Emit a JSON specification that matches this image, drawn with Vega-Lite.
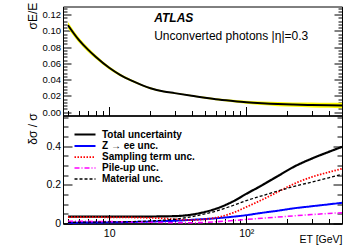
{
  "$schema": "https://vega.github.io/schema/vega-lite/v6.json",
  "padding": {"left": 25, "top": 1.5, "right": 20, "bottom": 2},
  "spacing": 0,
  "bounds": "flush",
  "background": "white",
  "config": {
    "view": {"stroke": "black", "strokeWidth": 1},
    "font": "Liberation Sans",
    "axis": {"domainColor": "black", "tickColor": "black", "labelColor": "black", "titleColor": "black", "grid": false, "labelFont": "Liberation Sans", "titleFont": "Liberation Sans", "domainWidth": 1, "tickWidth": 1, "labelFlush": false, "labelOverlap": false, "titleFontWeight": "normal"}
  },
  "datasets": {
    "sig": [
      {"E": 5, "s": 0.107, "lo": 0.1031, "hi": 0.1109},
      {"E": 6, "s": 0.089, "lo": 0.0858, "hi": 0.0922},
      {"E": 7, "s": 0.077, "lo": 0.0742, "hi": 0.0798},
      {"E": 8, "s": 0.068, "lo": 0.0655, "hi": 0.0705},
      {"E": 10, "s": 0.0547, "lo": 0.0527, "hi": 0.0567},
      {"E": 12, "s": 0.046, "lo": 0.0443, "hi": 0.0477},
      {"E": 15, "s": 0.038, "lo": 0.0366, "hi": 0.0394},
      {"E": 20, "s": 0.0295, "lo": 0.0284, "hi": 0.0306},
      {"E": 25, "s": 0.0255, "lo": 0.0246, "hi": 0.0264},
      {"E": 30, "s": 0.0235, "lo": 0.0226, "hi": 0.0244},
      {"E": 40, "s": 0.0203, "lo": 0.0194, "hi": 0.0212},
      {"E": 50, "s": 0.0178, "lo": 0.0167, "hi": 0.0189},
      {"E": 60, "s": 0.016, "lo": 0.0148, "hi": 0.0172},
      {"E": 80, "s": 0.0138, "lo": 0.0122, "hi": 0.0154},
      {"E": 100, "s": 0.0123, "lo": 0.0104, "hi": 0.0142},
      {"E": 130, "s": 0.011, "lo": 0.0088, "hi": 0.0132},
      {"E": 170, "s": 0.01, "lo": 0.0075, "hi": 0.0125},
      {"E": 220, "s": 0.0094, "lo": 0.0067, "hi": 0.0121},
      {"E": 300, "s": 0.0089, "lo": 0.0059, "hi": 0.0119},
      {"E": 400, "s": 0.0085, "lo": 0.0054, "hi": 0.0116},
      {"E": 500, "s": 0.0083, "lo": 0.005, "hi": 0.0116}
    ],
    "unc": [
      {"E": 5, "series": "Total uncertainty", "v": 0.036},
      {"E": 7, "series": "Total uncertainty", "v": 0.036},
      {"E": 10, "series": "Total uncertainty", "v": 0.036},
      {"E": 15, "series": "Total uncertainty", "v": 0.036},
      {"E": 20, "series": "Total uncertainty", "v": 0.036},
      {"E": 25, "series": "Total uncertainty", "v": 0.037},
      {"E": 30, "series": "Total uncertainty", "v": 0.038},
      {"E": 40, "series": "Total uncertainty", "v": 0.046},
      {"E": 50, "series": "Total uncertainty", "v": 0.06},
      {"E": 60, "series": "Total uncertainty", "v": 0.076},
      {"E": 80, "series": "Total uncertainty", "v": 0.114},
      {"E": 100, "series": "Total uncertainty", "v": 0.153},
      {"E": 130, "series": "Total uncertainty", "v": 0.197},
      {"E": 170, "series": "Total uncertainty", "v": 0.245},
      {"E": 220, "series": "Total uncertainty", "v": 0.291},
      {"E": 300, "series": "Total uncertainty", "v": 0.335},
      {"E": 400, "series": "Total uncertainty", "v": 0.37},
      {"E": 500, "series": "Total uncertainty", "v": 0.396},
      {"E": 5, "series": "Z  → ee unc.", "v": 0.004},
      {"E": 7, "series": "Z  → ee unc.", "v": 0.005},
      {"E": 10, "series": "Z  → ee unc.", "v": 0.006},
      {"E": 15, "series": "Z  → ee unc.", "v": 0.008},
      {"E": 20, "series": "Z  → ee unc.", "v": 0.01},
      {"E": 25, "series": "Z  → ee unc.", "v": 0.012},
      {"E": 30, "series": "Z  → ee unc.", "v": 0.014},
      {"E": 40, "series": "Z  → ee unc.", "v": 0.019},
      {"E": 50, "series": "Z  → ee unc.", "v": 0.023},
      {"E": 60, "series": "Z  → ee unc.", "v": 0.027},
      {"E": 80, "series": "Z  → ee unc.", "v": 0.035},
      {"E": 100, "series": "Z  → ee unc.", "v": 0.043},
      {"E": 130, "series": "Z  → ee unc.", "v": 0.055},
      {"E": 170, "series": "Z  → ee unc.", "v": 0.066},
      {"E": 220, "series": "Z  → ee unc.", "v": 0.078},
      {"E": 300, "series": "Z  → ee unc.", "v": 0.089},
      {"E": 400, "series": "Z  → ee unc.", "v": 0.099},
      {"E": 500, "series": "Z  → ee unc.", "v": 0.107},
      {"E": 5, "series": "Sampling term unc.", "v": 0.033},
      {"E": 7, "series": "Sampling term unc.", "v": 0.033},
      {"E": 10, "series": "Sampling term unc.", "v": 0.032},
      {"E": 15, "series": "Sampling term unc.", "v": 0.031},
      {"E": 20, "series": "Sampling term unc.", "v": 0.029},
      {"E": 25, "series": "Sampling term unc.", "v": 0.026},
      {"E": 30, "series": "Sampling term unc.", "v": 0.022},
      {"E": 40, "series": "Sampling term unc.", "v": 0.018},
      {"E": 50, "series": "Sampling term unc.", "v": 0.022},
      {"E": 60, "series": "Sampling term unc.", "v": 0.03},
      {"E": 80, "series": "Sampling term unc.", "v": 0.055},
      {"E": 100, "series": "Sampling term unc.", "v": 0.085},
      {"E": 130, "series": "Sampling term unc.", "v": 0.122},
      {"E": 170, "series": "Sampling term unc.", "v": 0.163},
      {"E": 220, "series": "Sampling term unc.", "v": 0.203},
      {"E": 300, "series": "Sampling term unc.", "v": 0.24},
      {"E": 400, "series": "Sampling term unc.", "v": 0.265},
      {"E": 500, "series": "Sampling term unc.", "v": 0.283},
      {"E": 5, "series": "Pile-up unc.", "v": 0.012},
      {"E": 7, "series": "Pile-up unc.", "v": 0.011},
      {"E": 10, "series": "Pile-up unc.", "v": 0.01},
      {"E": 15, "series": "Pile-up unc.", "v": 0.008},
      {"E": 20, "series": "Pile-up unc.", "v": 0.007},
      {"E": 25, "series": "Pile-up unc.", "v": 0.005},
      {"E": 30, "series": "Pile-up unc.", "v": 0.004},
      {"E": 40, "series": "Pile-up unc.", "v": 0.004},
      {"E": 50, "series": "Pile-up unc.", "v": 0.006},
      {"E": 60, "series": "Pile-up unc.", "v": 0.009},
      {"E": 80, "series": "Pile-up unc.", "v": 0.015},
      {"E": 100, "series": "Pile-up unc.", "v": 0.021},
      {"E": 130, "series": "Pile-up unc.", "v": 0.027},
      {"E": 170, "series": "Pile-up unc.", "v": 0.033},
      {"E": 220, "series": "Pile-up unc.", "v": 0.039},
      {"E": 300, "series": "Pile-up unc.", "v": 0.046},
      {"E": 400, "series": "Pile-up unc.", "v": 0.052},
      {"E": 500, "series": "Pile-up unc.", "v": 0.056},
      {"E": 5, "series": "Material unc.", "v": 0.006},
      {"E": 7, "series": "Material unc.", "v": 0.007},
      {"E": 10, "series": "Material unc.", "v": 0.008},
      {"E": 15, "series": "Material unc.", "v": 0.01},
      {"E": 20, "series": "Material unc.", "v": 0.013},
      {"E": 25, "series": "Material unc.", "v": 0.017},
      {"E": 30, "series": "Material unc.", "v": 0.022},
      {"E": 40, "series": "Material unc.", "v": 0.035},
      {"E": 50, "series": "Material unc.", "v": 0.05},
      {"E": 60, "series": "Material unc.", "v": 0.064},
      {"E": 80, "series": "Material unc.", "v": 0.093},
      {"E": 100, "series": "Material unc.", "v": 0.118},
      {"E": 130, "series": "Material unc.", "v": 0.143},
      {"E": 170, "series": "Material unc.", "v": 0.168},
      {"E": 220, "series": "Material unc.", "v": 0.19},
      {"E": 300, "series": "Material unc.", "v": 0.214},
      {"E": 400, "series": "Material unc.", "v": 0.236},
      {"E": 500, "series": "Material unc.", "v": 0.254}
    ]
  },
  "vconcat": [
    {
      "width": 279,
      "height": 109,
      "data": {"name": "sig"},
      "resolve": {"axis": {"x": "independent", "y": "independent"}},
      "layer": [
        {
          "mark": {"type": "area", "color": "#ffff00", "interpolate": "monotone"},
          "encoding": {
            "x": {
              "field": "E", "type": "quantitative",
              "scale": {"type": "log", "domain": [4.6, 500]},
              "axis": {
                "orient": "bottom",
                "values": [5, 6, 7, 8, 9, 10, 20, 30, 40, 50, 60, 70, 80, 90, 100, 200, 300, 400, 500],
                "labels": false, "title": null,
                "tickSize": {"condition": {"test": "datum.value == 10 || datum.value == 100", "value": -9}, "value": -5}
              }
            },
            "y": {
              "field": "lo", "type": "quantitative",
              "scale": {"domain": [-0.004, 0.13], "zero": false},
              "axis": {
                "orient": "left",
                "values": [0, 0.02, 0.04, 0.06, 0.08, 0.1, 0.12],
                "ticks": false,
                "labelFontSize": 9.5, "labelPadding": 2.5,
                "title": "σE/E", "titleFontSize": 12, "titleX": -31, "titleY": 9, "titleAlign": "center", "titleBaseline": "middle", "titleAngle": -90
              }
            },
            "y2": {"field": "hi"}
          }
        },
        {
          "mark": {"type": "line", "color": "black", "strokeWidth": 2, "interpolate": "monotone"},
          "encoding": {
            "x": {"field": "E", "type": "quantitative", "scale": {"type": "log", "domain": [4.6, 500]}, "axis": null},
            "y": {
              "field": "s", "type": "quantitative",
              "scale": {"domain": [-0.004, 0.13], "zero": false},
              "axis": {
                "orient": "right",
                "values": [0, 0.004, 0.008, 0.012, 0.016, 0.02, 0.024, 0.028, 0.032, 0.036, 0.04, 0.044, 0.048, 0.052, 0.056, 0.06, 0.064, 0.068, 0.072, 0.076, 0.08, 0.084, 0.088, 0.092, 0.096, 0.1, 0.104, 0.108, 0.112, 0.116, 0.12, 0.124, 0.128],
                "labels": false, "title": null,
                "tickSize": {"condition": {"test": "indexof([0, 0.02, 0.04, 0.06, 0.08, 0.1, 0.12], datum.value) >= 0", "value": -8}, "value": -4}
              }
            }
          }
        },
        {
          "mark": {"type": "point", "opacity": 0},
          "encoding": {
            "x": {"field": "E", "type": "quantitative", "scale": {"type": "log", "domain": [4.6, 500]}, "axis": null},
            "y": {
              "field": "s", "type": "quantitative",
              "scale": {"domain": [-0.004, 0.13], "zero": false},
              "axis": {
                "orient": "left",
                "values": [0, 0.004, 0.008, 0.012, 0.016, 0.02, 0.024, 0.028, 0.032, 0.036, 0.04, 0.044, 0.048, 0.052, 0.056, 0.06, 0.064, 0.068, 0.072, 0.076, 0.08, 0.084, 0.088, 0.092, 0.096, 0.1, 0.104, 0.108, 0.112, 0.116, 0.12, 0.124, 0.128],
                "labels": false, "title": null,
                "tickSize": {"condition": {"test": "indexof([0, 0.02, 0.04, 0.06, 0.08, 0.1, 0.12], datum.value) >= 0", "value": -8}, "value": -4}
              }
            }
          }
        },
        {
          "data": {"values": [{}]},
          "mark": {"type": "text", "align": "left", "baseline": "middle", "font": "Liberation Sans", "fontSize": 12, "fontWeight": "bold", "fontStyle": "italic", "text": "ATLAS"},
          "encoding": {
            "x": {"datum": 21.3, "type": "quantitative", "scale": {"type": "log", "domain": [4.6, 500]}, "axis": null},
            "y": {"datum": 0.1153, "type": "quantitative", "scale": {"domain": [-0.004, 0.13], "zero": false}, "axis": null}
          }
        },
        {
          "data": {"values": [{}]},
          "mark": {"type": "text", "align": "left", "baseline": "middle", "font": "Liberation Sans", "fontSize": 12, "text": "Unconverted photons |η|=0.3"},
          "encoding": {
            "x": {"datum": 21.3, "type": "quantitative", "scale": {"type": "log", "domain": [4.6, 500]}, "axis": null},
            "y": {"datum": 0.0932, "type": "quantitative", "scale": {"domain": [-0.004, 0.13], "zero": false}, "axis": null}
          }
        }
      ]
    },
    {
      "width": 279,
      "height": 108,
      "data": {"name": "unc"},
      "resolve": {"axis": {"x": "independent", "y": "independent"}},
      "layer": [
        {
          "mark": {"type": "line", "interpolate": "monotone"},
          "encoding": {
            "x": {
              "field": "E", "type": "quantitative",
              "scale": {"type": "log", "domain": [4.6, 500]},
              "axis": {
                "orient": "bottom",
                "values": [10, 100],
                "ticks": false,
                "labelExpr": "datum.value == 10 ? '10' : '10²'",
                "labelFontSize": 10.5, "labelPadding": 5,
                "title": "ET [GeV]", "titleFontSize": 10.5, "titleX": 279, "titleY": 19, "titleAlign": "right", "titleBaseline": "alphabetic", "titleAnchor": null
              }
            },
            "y": {
              "field": "v", "type": "quantitative",
              "scale": {"domain": [0, 0.558], "zero": false},
              "axis": {
                "orient": "left",
                "values": [0, 0.2, 0.4],
                "ticks": false,
                "labelExpr": "datum.value == 0 ? '0' : datum.value == 0.2 ? '0.2' : '0.4'",
                "labelFontSize": 10.5, "labelPadding": 2.5,
                "title": "δσ / σ", "titleFontSize": 12, "titleX": -31, "titleY": 13, "titleAlign": "center", "titleBaseline": "middle", "titleAngle": -90
              }
            },
            "color": {
              "field": "series", "type": "nominal",
              "scale": {"domain": ["Total uncertainty", "Z  → ee unc.", "Sampling term unc.", "Pile-up unc.", "Material unc."], "range": ["#000000", "#0000ff", "#ff0000", "#ff00ff", "#000000"]},
              "legend": {"orient": "none", "legendX": 15.5, "legendY": 121.5, "title": null, "padding": 0, "symbolType": "M-2.1,0H2.1", "symbolSize": 100, "labelFontWeight": "bold", "labelFontSize": 10, "labelFont": "Liberation Sans", "labelColor": "black", "rowPadding": 0, "labelOffset": 10.5}
            },
            "strokeDash": {
              "field": "series", "type": "nominal",
              "scale": {"domain": ["Total uncertainty", "Z  → ee unc.", "Sampling term unc.", "Pile-up unc.", "Material unc."], "range": [[1, 0], [1, 0], [1.5, 1.5], [5, 2, 1, 2], [3, 2]]},
              "legend": {"orient": "none", "legendX": 15.5, "legendY": 121.5, "title": null, "padding": 0, "symbolType": "M-2.1,0H2.1", "symbolSize": 100, "labelFontWeight": "bold", "labelFontSize": 10, "labelFont": "Liberation Sans", "labelColor": "black", "rowPadding": 0, "labelOffset": 10.5}
            },
            "strokeWidth": {
              "field": "series", "type": "nominal",
              "scale": {"domain": ["Total uncertainty", "Z  → ee unc.", "Sampling term unc.", "Pile-up unc.", "Material unc."], "range": [2.2, 1.3, 1.3, 1.3, 1.3]},
              "legend": {"orient": "none", "legendX": 15.5, "legendY": 121.5, "title": null, "padding": 0, "symbolType": "M-2.1,0H2.1", "symbolSize": 100, "labelFontWeight": "bold", "labelFontSize": 10, "labelFont": "Liberation Sans", "labelColor": "black", "rowPadding": 0, "labelOffset": 10.5}
            }
          }
        },
        {
          "mark": {"type": "point", "opacity": 0},
          "encoding": {
            "x": {
              "field": "E", "type": "quantitative",
              "scale": {"type": "log", "domain": [4.6, 500]},
              "axis": {
                "orient": "bottom",
                "values": [5, 6, 7, 8, 9, 10, 20, 30, 40, 50, 60, 70, 80, 90, 100, 200, 300, 400, 500],
                "labels": false, "title": null,
                "tickSize": {"condition": {"test": "datum.value == 10 || datum.value == 100", "value": -9}, "value": -5}
              }
            },
            "y": {
              "field": "v", "type": "quantitative",
              "scale": {"domain": [0, 0.558], "zero": false},
              "axis": {
                "orient": "right",
                "values": [0, 0.05, 0.1, 0.15, 0.2, 0.25, 0.3, 0.35, 0.4, 0.45, 0.5, 0.55],
                "labels": false, "title": null,
                "tickSize": {"condition": {"test": "datum.value == 0 || datum.value == 0.2 || datum.value == 0.4", "value": -9}, "value": -5}
              }
            }
          }
        },
        {
          "mark": {"type": "point", "opacity": 0},
          "encoding": {
            "x": {"field": "E", "type": "quantitative", "scale": {"type": "log", "domain": [4.6, 500]}, "axis": null},
            "y": {
              "field": "v", "type": "quantitative",
              "scale": {"domain": [0, 0.558], "zero": false},
              "axis": {
                "orient": "left",
                "values": [0, 0.05, 0.1, 0.15, 0.2, 0.25, 0.3, 0.35, 0.4, 0.45, 0.5, 0.55],
                "labels": false, "title": null,
                "tickSize": {"condition": {"test": "datum.value == 0 || datum.value == 0.2 || datum.value == 0.4", "value": -9}, "value": -5}
              }
            }
          }
        }
      ]
    }
  ]
}
